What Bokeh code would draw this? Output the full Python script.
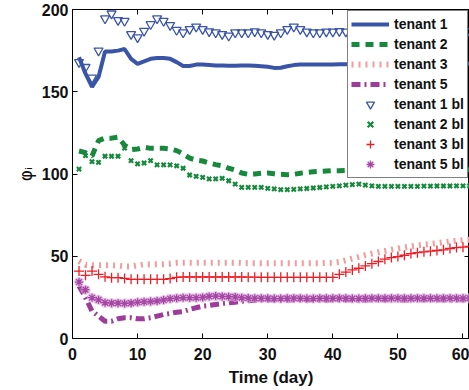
from bokeh.plotting import figure
from bokeh.models import LinearAxis, Range1d, FixedTicker, Legend, LegendItem, Title
from bokeh.embed import file_html
from bokeh.resources import INLINE

days = list(range(1, 62))

tenant1 = [171, 161, 153, 159, 174.5, 174.5, 175, 176, 170, 167,
           168.5, 170, 170.5, 170.5, 170, 168, 165.7, 165.7, 166.5, 166.5,
           166.3, 166, 166, 165.8, 165.8, 166, 166, 165.8, 165.5, 165.2,
           164.5, 164.6, 165.5, 166.2, 166.5, 166.5, 166.5, 166.5, 166.5, 166.6,
           166.7, 166.7, 166.8, 166.8, 166.8, 166.9, 166.9, 166.9, 167, 167,
           167, 167, 167.1, 167.1, 167.1, 167.1, 167.2, 167.2, 167.2, 167.2, 167.2]
tenant2 = [114, 113, 111, 120.3, 121.8, 121.8, 122.4, 117.5, 114.8, 115.2,
           116.3, 115.6, 115.6, 115.6, 115.2, 114.2, 112.2, 109.6, 108.5, 107.9,
           106.7, 105.7, 105, 103.5, 102.4, 100.6, 99.8, 100, 100.4, 100.6,
           100.2, 99.8, 99.6, 99.8, 100.5, 101, 101.3, 101.6, 101.8, 102,
           102, 102.1, 102.1, 102.2, 102.2, 102.2, 102.3, 102.3, 102.3, 102.4,
           102.4, 102.4, 102.4, 102.5, 102.5, 102.5, 102.5, 102.5, 102.6, 102.6, 102.6]
tenant3 = [47, 44.8, 44.5, 44.5, 44.5, 44.5, 44.3, 43.8, 43.8, 44.5,
           45, 45, 45.1, 45.2, 45.5, 46, 46.1, 46.1, 46.1, 46.1,
           46.1, 46.1, 46.1, 46.1, 46.1, 45.9, 45.8, 45.8, 45.8, 45.8,
           45.8, 45.8, 45.8, 45.8, 45.8, 45.8, 45.8, 45.8, 45.9, 46,
           46.5, 47.5, 48.6, 49.6, 50.7, 51.6, 52.4, 53.2, 54, 54.7,
           55.4, 56, 56.6, 57.1, 57.5, 58, 58.5, 59, 59.4, 59.8, 60]
tenant5 = [31.9, 24.8, 16.6, 13.6, 10.5, 10.5, 12, 12.6, 12.6, 12,
           12, 12.6, 13.6, 14.6, 15.2, 16, 16.4, 17.7, 18.7, 19.7,
           20.1, 20.7, 21.3, 21.7, 22.1, 22.6, 23, 23.3, 23.5, 23.5,
           23.5, 23.4, 23.4, 23.5, 23.5, 23.6, 23.5, 23.4, 23.4, 23.5,
           23.5, 23.6, 23.5, 23.4, 23.4, 23.5, 23.5, 23.6, 23.5, 23.5,
           23.4, 23.5, 23.5, 23.6, 23.5, 23.5, 23.5, 23.4, 23.5, 23.5, 23.5]

tenant1_bl = [168, 165, 158.5, 175, 194.5, 197.5, 193.5, 193, 185, 183,
              187, 191, 194.5, 193, 190.5, 187.5, 186, 188, 189.5, 188,
              186.7, 186, 185, 184, 186, 186, 186, 186.7, 186, 185,
              184.5, 186, 188, 189.5, 188, 186.5, 186, 186, 186.5, 186.5,
              186.8, 186.5, 186.3, 186.6, 187, 186.8, 186.5, 186.4, 186.7, 187,
              186.8, 186.6, 186.5, 186.7, 186.9, 186.8, 186.6, 186.5, 186.7, 186.8, 186.7]
tenant2_bl = [103, 111.2, 107.5, 107.1, 110.8, 110.8, 110.8, 115.7, 108.1, 106.1,
              106.7, 108.1, 105.5, 105.5, 105.5, 105, 103.5, 99.4, 98.6, 98,
              97, 97, 97.4, 95.9, 93.9, 91.9, 91.9, 91.9, 91.9, 91.3,
              91, 90.5, 90.5, 90.7, 91, 91.2, 91.5, 91.8, 92.2, 92.5,
              92.8, 93.2, 93.5, 93.8, 93.2, 92.8, 92.5, 92.5, 92.5, 92.5,
              92.5, 92.5, 92.5, 92.6, 92.6, 92.7, 92.7, 92.7, 92.8, 92.8, 92.8]
tenant3_bl = [41, 38.4, 41, 39, 37.5, 37, 37, 36.5, 36, 36,
              36, 36, 36, 36, 36.4, 37.2, 37.4, 37.4, 37.4, 37.4,
              37.4, 37.4, 37.4, 37.4, 37.4, 37.4, 37.3, 37.3, 37.2, 37.2,
              37.2, 37.2, 37.2, 37.2, 37.2, 37.2, 37.2, 37.2, 37.2, 37.2,
              39, 40.4, 41.7, 42.7, 44.1, 45.5, 46.8, 48.2, 49.2, 49.8,
              50.6, 51.6, 52.2, 52.7, 53.1, 53.5, 53.9, 54.7, 55.3, 55.5, 56]
tenant5_bl = [34.3, 29.7, 24.8, 23.5, 21.8, 21.5, 21.5, 21.3, 21.5, 22,
              22.3, 22.5, 22.8, 23.4, 24.2, 24.5, 24.8, 24.8, 24.8, 25,
              25.6, 25.8, 25.6, 25.4, 25.3, 24.8, 24.6, 24.5, 24.4, 24.4,
              24.3, 24.3, 24.4, 24.5, 24.4, 24.3, 24.3, 24.4, 24.4, 24.4,
              24.5, 24.4, 24.3, 24.3, 24.4, 24.5, 24.4, 24.4, 24.5, 24.5,
              24.4, 24.4, 24.5, 24.5, 24.4, 24.4, 24.5, 24.5, 24.5, 24.5, 24.5]

x_ticks = [0, 10, 20, 30, 40, 50, 60]
y_ticks = [0, 50, 100, 150, 200]
x_title = "Time (day)"
y_title = "φᵢ"

BLUE = "#3a55a8"
GREEN = "#17893c"
RED_L = "#f49a9a"
RED = "#ee1c25"
PURPLE = "#9e3c9c"
PURPLE_M = "#a448a4"

FONT = "Liberation Sans"

p = figure(width=469, height=390, x_range=Range1d(0, 61), y_range=Range1d(0, 200),
           output_backend="svg", toolbar_location=None,
           min_border_left=72, min_border_top=9, min_border_right=0, min_border_bottom=0)
p.background_fill_color = "white"
p.border_fill_color = "white"
p.outline_line_color = "black"
p.outline_line_width = 1
p.xgrid.visible = False
p.ygrid.visible = False


def style_axis(ax, ticks, labels=True):
    ax.ticker = FixedTicker(ticks=ticks)
    ax.major_tick_in = 5
    ax.major_tick_out = 0
    ax.minor_tick_in = 0
    ax.minor_tick_out = 0
    ax.axis_line_color = "black"
    ax.major_tick_line_color = "black"
    if labels:
        ax.major_label_text_font = FONT
        ax.major_label_text_font_style = "bold"
        ax.major_label_text_font_size = "16px"
        ax.major_label_text_color = "#111111"
    else:
        ax.major_label_overrides = {t: "" for t in ticks}
        ax.major_label_text_font_size = "0px"
        ax.major_label_text_color = None
        ax.major_label_standoff = 0
        ax.axis_label_standoff = 0


style_axis(p.xaxis[0], x_ticks)
style_axis(p.yaxis[0], y_ticks)
p.xaxis[0].major_label_standoff = 9
p.yaxis[0].major_label_standoff = 4
p.yaxis[0].axis_label = y_title
p.yaxis[0].axis_label_text_font = "DejaVu Sans"
p.yaxis[0].axis_label_text_font_style = "normal"
p.yaxis[0].axis_label_text_font_size = "17px"
p.yaxis[0].axis_label_text_color = "#111111"
p.yaxis[0].axis_label_standoff = 3

p.add_layout(Title(text=x_title, align="center", vertical_align="bottom", standoff=7,
                   text_font=FONT, text_font_style="bold", text_font_size="17px",
                   text_color="#111111"), "below")

top_ax = LinearAxis()
style_axis(top_ax, x_ticks, labels=False)
p.add_layout(top_ax, "above")
right_ax = LinearAxis()
style_axis(right_ax, y_ticks, labels=False)
p.add_layout(right_ax, "right")

r1 = p.line(days, tenant1, line_color=BLUE, line_width=4)
r2 = p.line(days, tenant2, line_color=GREEN, line_width=5, line_dash="8 6")
r3 = p.line(days, tenant3, line_color=RED_L, line_width=6, line_dash="2 5")
r5 = p.line(days, tenant5, line_color=PURPLE, line_width=5, line_dash="9 4 2 4")

m1 = p.scatter(days, tenant1_bl, marker="inverted_triangle", size=9,
               line_color=BLUE, fill_color=None, line_width=1.3)
m2 = p.scatter(days, tenant2_bl, marker="x", size=6, line_color=GREEN, line_width=2.2)
m3 = p.scatter(days, tenant3_bl, marker="cross", size=10, line_color=RED, line_width=1.3)
p.scatter(days, tenant5_bl, marker="asterisk", size=10, line_color="#dca8dc",
          line_width=3, line_alpha=0.7)
m5 = p.scatter(days, tenant5_bl, marker="asterisk", size=8, line_color=PURPLE_M, line_width=1.3)

legend = Legend(items=[
    LegendItem(label="tenant 1", renderers=[r1]),
    LegendItem(label="tenant 2", renderers=[r2]),
    LegendItem(label="tenant 3", renderers=[r3]),
    LegendItem(label="tenant 5", renderers=[r5]),
    LegendItem(label="tenant 1 bl", renderers=[m1]),
    LegendItem(label="tenant 2 bl", renderers=[m2]),
    LegendItem(label="tenant 3 bl", renderers=[m3]),
    LegendItem(label="tenant 5 bl", renderers=[m5]),
], location="top_right")
legend.margin = 1
legend.padding = 3
legend.spacing = 0
legend.glyph_width = 38
legend.glyph_height = 20
legend.label_height = 20
legend.label_standoff = 5
legend.label_text_font = FONT
legend.label_text_font_style = "bold"
legend.label_text_font_size = "14px"
legend.label_text_color = "#111111"
legend.border_line_color = "black"
legend.border_line_width = 1
legend.background_fill_color = "white"
legend.background_fill_alpha = 1.0
p.add_layout(legend)

open("out.html", "w").write(file_html(p, INLINE))
